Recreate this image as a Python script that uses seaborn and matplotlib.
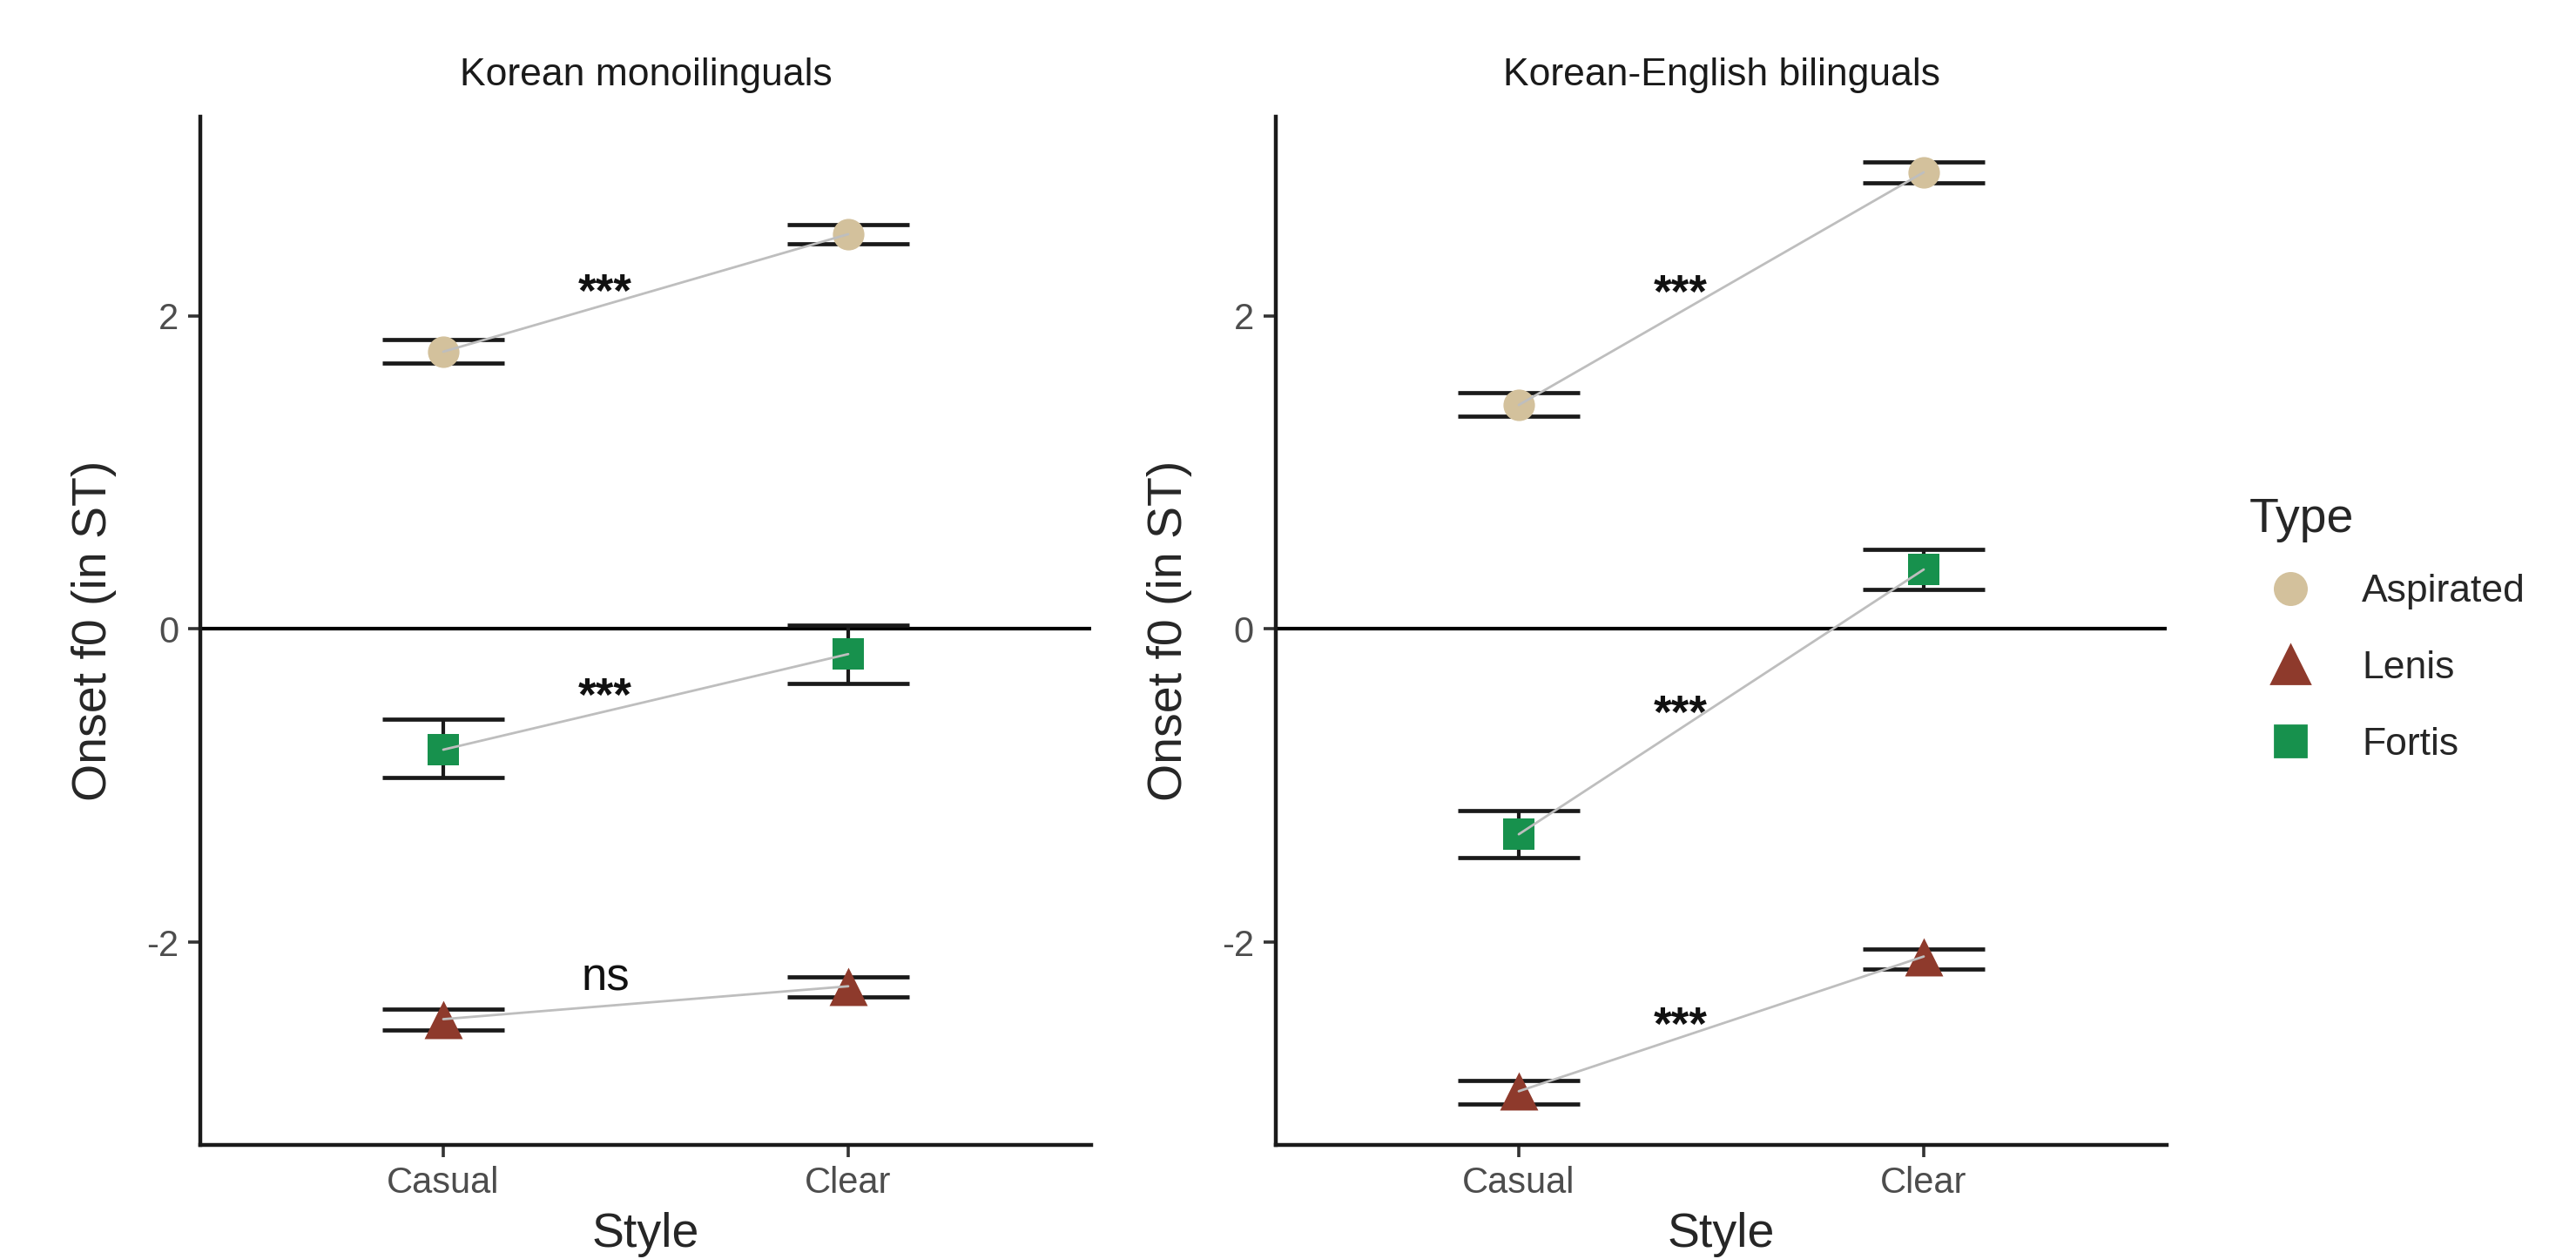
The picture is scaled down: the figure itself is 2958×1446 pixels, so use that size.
import matplotlib
matplotlib.use("Agg")
import matplotlib.pyplot as plt
from matplotlib.lines import Line2D
import seaborn as sns
import pandas as pd

sns.set_style("ticks")
plt.rcParams["font.family"] = ["Liberation Sans", "DejaVu Sans"]
plt.rcParams["axes.unicode_minus"] = False

# ---- data ---------------------------------------------------------------
styles = ["Casual", "Clear"]
types = ["Aspirated", "Lenis", "Fortis"]
type_colors = ["#D3C19C", "#8E3A2C", "#17914D"]
type_markers = ["o", "^", "s"]
type_sizes = [170, 250, 170]

panel_titles = ["Korean monoilinguals", "Korean-English bilinguals"]

# rows follow `types`, columns follow `styles`
mono_mean = [[1.77, 2.52], [-2.49, -2.28], [-0.77, -0.16]]
mono_lower = [[1.70, 2.46], [-2.56, -2.35], [-0.95, -0.345]]
mono_upper = [[1.85, 2.58], [-2.425, -2.22], [-0.575, 0.025]]

bi_mean = [[1.43, 2.915], [-2.95, -2.09], [-1.31, 0.38]]
bi_lower = [[1.36, 2.845], [-3.03, -2.17], [-1.46, 0.25]]
bi_upper = [[1.51, 2.98], [-2.88, -2.04], [-1.16, 0.51]]

mono_sig = ["***", "ns", "***"]
mono_sig_y = [2.23, -2.23, -0.35]
bi_sig = ["***", "***", "***"]
bi_sig_y = [2.225, -2.45, -0.46]
sig_x = 0.4  # between Casual (0) and Clear (1)

W, H, DPI = 2958, 1446, 200


def to_frame(mean, lower, upper):
    rows = []
    for i, t in enumerate(types):
        for j, s in enumerate(styles):
            rows.append({"Type": t, "Style": s, "pos": j,
                         "mean": mean[i][j], "lo": lower[i][j], "hi": upper[i][j]})
    return pd.DataFrame(rows)


def draw_panel(ax, df, sig, sig_y, title):
    ax.axhline(0, color="black", lw=1.5, zorder=1)

    # error bars (ggplot-style, cap width 0.3)
    ax.vlines(df["pos"], df["lo"], df["hi"], color="#1a1a1a", lw=1.5, zorder=2)
    ax.hlines(df["lo"], df["pos"] - 0.15, df["pos"] + 0.15, color="#1a1a1a", lw=1.7, zorder=2)
    ax.hlines(df["hi"], df["pos"] - 0.15, df["pos"] + 0.15, color="#1a1a1a", lw=1.7, zorder=2)

    for t, c, m, s in zip(types, type_colors, type_markers, type_sizes):
        sub = df[df["Type"] == t]
        sns.scatterplot(data=sub, x="pos", y="mean", color=c, marker=m, s=s,
                        linewidth=0, ax=ax, zorder=3, legend=False)

    sns.lineplot(data=df, x="pos", y="mean", units="Type", estimator=None,
                 color="#BEBEBE", lw=1.0, ax=ax, zorder=4, legend=False)

    for txt, y in zip(sig, sig_y):
        if txt == "***":
            ax.annotate(txt, xy=(sig_x, y), xytext=(0, -0.58 * 19), textcoords="offset points",
                        ha="center", va="baseline", fontsize=19, fontweight="bold",
                        color="#111111")
        else:
            ax.annotate(txt, xy=(sig_x, y), xytext=(0, -0.27 * 19), textcoords="offset points",
                        ha="center", va="baseline", fontsize=19, color="#111111")

    ax.set_xlim(-0.6, 1.6)
    ax.set_ylim(-3.29, 3.27)
    ax.set_xticks(range(len(styles)), styles)
    ax.set_yticks([-2, 0, 2])
    ax.tick_params(length=5, width=1.3, color="#333333", labelcolor="#4D4D4D",
                   labelsize=15, pad=4)
    for sp in ["left", "bottom"]:
        ax.spines[sp].set_linewidth(1.6)
        ax.spines[sp].set_color("#1a1a1a")
    sns.despine(ax=ax)

    ax.set_title(title, fontsize=16, pad=13, color="#1a1a1a")
    ax.set_xlabel("Style", fontsize=20)
    ax.set_ylabel("Onset f0 (in ST)", fontsize=20)
    ax.xaxis.label.set_va("center")
    ax.yaxis.label.set_va("center")
    ax.xaxis.set_label_coords(0.5, -0.088)
    ax.yaxis.set_label_coords(-0.119, 0.5)


fig = plt.figure(figsize=(W / DPI, H / DPI), dpi=DPI)
ax_bottom = 1 - 1314.5 / H
ax_height = (1314.5 - 134) / H
ax_width = 1023 / W
ax1 = fig.add_axes([230 / W, ax_bottom, ax_width, ax_height])
ax2 = fig.add_axes([1465 / W, ax_bottom, ax_width, ax_height])

draw_panel(ax1, to_frame(mono_mean, mono_lower, mono_upper), mono_sig, mono_sig_y, panel_titles[0])
draw_panel(ax2, to_frame(bi_mean, bi_lower, bi_upper), bi_sig, bi_sig_y, panel_titles[1])

handles = [Line2D([], [], ls="", marker=m, color=c, markersize=(s ** 0.5))
           for c, m, s in zip(type_colors, type_markers, type_sizes)]
leg = fig.legend(handles, types, title="Type", loc="upper left", bbox_to_anchor=(2583 / W, 0.605),
                 frameon=False, fontsize=16, title_fontsize=20, labelspacing=1.05,
                 handlelength=2.1, handletextpad=0.8, borderpad=0, borderaxespad=0,
                 alignment="left")
leg._legend_box.sep = 13

fig.savefig("out.png", dpi=DPI)
